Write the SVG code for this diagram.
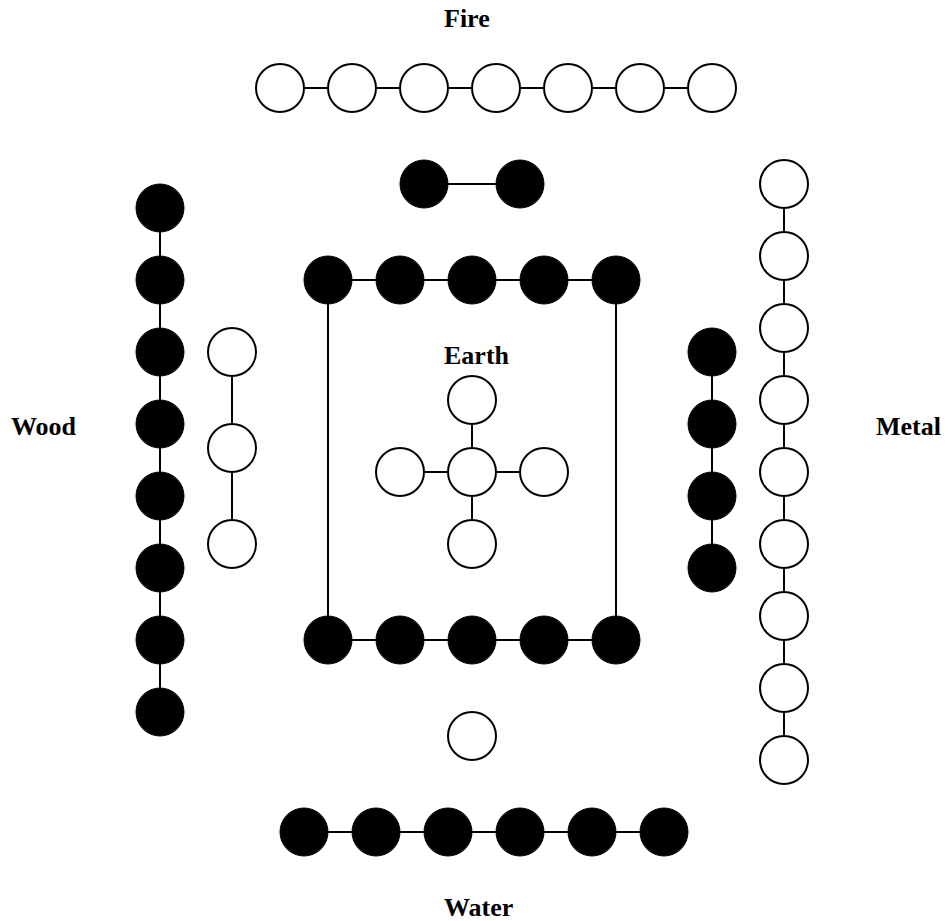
<svg xmlns="http://www.w3.org/2000/svg" width="948" height="921" viewBox="0 0 948 921">
<style>
.w{fill:#fff;stroke:#000;stroke-width:2}
.b{fill:#000;stroke:#000;stroke-width:1}
.ln{stroke:#000;stroke-width:2;fill:none}
.lbl{font-family:"Liberation Serif","Times New Roman",serif;font-weight:bold;font-size:26px;fill:#000}
</style>
<rect width="948" height="921" fill="#fff"/>
<g id="connectors" class="ln">
<line x1="280" y1="88" x2="712" y2="88"/>
<line x1="424" y1="184" x2="520" y2="184"/>
<line x1="160" y1="208" x2="160" y2="712"/>
<line x1="232" y1="352" x2="232" y2="544"/>
<line x1="328" y1="280" x2="616" y2="280"/>
<line x1="328" y1="640" x2="616" y2="640"/>
<line x1="328" y1="280" x2="328" y2="640"/>
<line x1="616" y1="280" x2="616" y2="640"/>
<line x1="472" y1="400" x2="472" y2="544"/>
<line x1="400" y1="472" x2="544" y2="472"/>
<line x1="712" y1="352" x2="712" y2="568"/>
<line x1="784" y1="184" x2="784" y2="760"/>
<line x1="304" y1="832" x2="664" y2="832"/>
</g>
<g id="fire-label"><text class="lbl" x="444" y="27">Fire</text></g>
<g id="fire-7">
<circle class="w" cx="280" cy="88" r="24"/><circle class="w" cx="352" cy="88" r="24"/><circle class="w" cx="424" cy="88" r="24"/><circle class="w" cx="496" cy="88" r="24"/><circle class="w" cx="568" cy="88" r="24"/><circle class="w" cx="640" cy="88" r="24"/><circle class="w" cx="712" cy="88" r="24"/>
</g>
<g id="fire-2">
<circle class="b" cx="424" cy="184" r="24"/><circle class="b" cx="520" cy="184" r="24"/>
</g>
<g id="wood-label"><text class="lbl" x="11" y="435">Wood</text></g>
<g id="wood-8">
<circle class="b" cx="160" cy="208" r="24"/><circle class="b" cx="160" cy="280" r="24"/><circle class="b" cx="160" cy="352" r="24"/><circle class="b" cx="160" cy="424" r="24"/><circle class="b" cx="160" cy="496" r="24"/><circle class="b" cx="160" cy="568" r="24"/><circle class="b" cx="160" cy="640" r="24"/><circle class="b" cx="160" cy="712" r="24"/>
</g>
<g id="wood-3">
<circle class="w" cx="232" cy="352" r="24"/><circle class="w" cx="232" cy="448" r="24"/><circle class="w" cx="232" cy="544" r="24"/>
</g>
<g id="earth-10">
<circle class="b" cx="328" cy="280" r="24"/><circle class="b" cx="400" cy="280" r="24"/><circle class="b" cx="472" cy="280" r="24"/><circle class="b" cx="544" cy="280" r="24"/><circle class="b" cx="616" cy="280" r="24"/>
<circle class="b" cx="328" cy="640" r="24"/><circle class="b" cx="400" cy="640" r="24"/><circle class="b" cx="472" cy="640" r="24"/><circle class="b" cx="544" cy="640" r="24"/><circle class="b" cx="616" cy="640" r="24"/>
</g>
<g id="earth-label"><text class="lbl" x="444" y="364">Earth</text></g>
<g id="earth-5">
<circle class="w" cx="472" cy="400" r="24"/><circle class="w" cx="400" cy="472" r="24"/><circle class="w" cx="472" cy="472" r="24"/><circle class="w" cx="544" cy="472" r="24"/><circle class="w" cx="472" cy="544" r="24"/>
</g>
<g id="metal-4">
<circle class="b" cx="712" cy="352" r="24"/><circle class="b" cx="712" cy="424" r="24"/><circle class="b" cx="712" cy="496" r="24"/><circle class="b" cx="712" cy="568" r="24"/>
</g>
<g id="metal-9">
<circle class="w" cx="784" cy="184" r="24"/><circle class="w" cx="784" cy="256" r="24"/><circle class="w" cx="784" cy="328" r="24"/><circle class="w" cx="784" cy="400" r="24"/><circle class="w" cx="784" cy="472" r="24"/><circle class="w" cx="784" cy="544" r="24"/><circle class="w" cx="784" cy="616" r="24"/><circle class="w" cx="784" cy="688" r="24"/><circle class="w" cx="784" cy="760" r="24"/>
</g>
<g id="metal-label"><text class="lbl" x="876" y="435">Metal</text></g>
<g id="water-1"><circle class="w" cx="472" cy="736" r="24"/></g>
<g id="water-6">
<circle class="b" cx="304" cy="832" r="24"/><circle class="b" cx="376" cy="832" r="24"/><circle class="b" cx="448" cy="832" r="24"/><circle class="b" cx="520" cy="832" r="24"/><circle class="b" cx="592" cy="832" r="24"/><circle class="b" cx="664" cy="832" r="24"/>
</g>
<g id="water-label"><text class="lbl" x="444" y="916">Water</text></g>
</svg>
